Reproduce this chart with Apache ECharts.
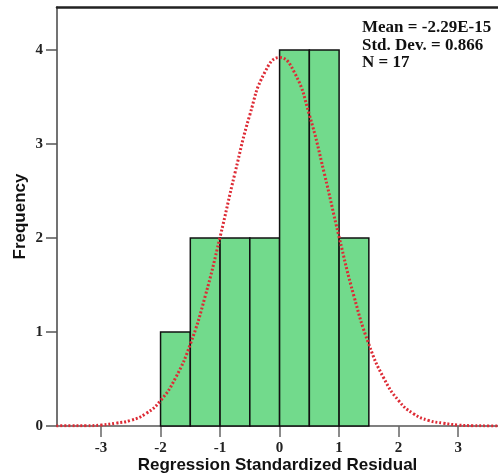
<!DOCTYPE html>
<html>
<head>
<meta charset="utf-8">
<script src="https://cdn.jsdelivr.net/npm/echarts@6/dist/echarts.min.js"></script>
<style>html,body{margin:0;padding:0;background:#fff;}#c{width:498px;height:475px;}</style>
</head>
<body>
<div id="c"></div>
<script>
// Histogram bins (Regression Standardized Residual)
const binStart = [-2.0, -1.5, -1.0, -0.5, 0.0, 0.5, 1.0];
const binEnd   = [-1.5, -1.0, -0.5, 0.0, 0.5, 1.0, 1.5];
const counts   = [1, 2, 2, 2, 4, 4, 2];
// Normal curve
const curveX = [-3.75,-3.5,-3.25,-3.0,-2.75,-2.5,-2.25,-2.0,-1.75,-1.5,-1.25,-1.0,-0.75,-0.5,-0.25,0.0,0.25,0.5,0.75,1.0,1.25,1.5,1.75,2.0,2.25,2.5,2.75,3.0,3.25,3.5,3.75];
const curveY = [0.0,0.004,0.003,0.01,0.03,0.06,0.13,0.27,0.51,0.87,1.38,2.01,2.69,3.31,3.76,3.92,3.76,3.31,2.69,2.01,1.38,0.87,0.51,0.27,0.13,0.06,0.03,0.01,0.003,0.001,0.0];
const xTicks = [-3, -2, -1, 0, 1, 2, 3];
const yTicks = [0, 1, 2, 3, 4];
const stats = ['Mean = -2.29E-15', 'Std. Dev. = 0.866', 'N = 17'];

const serif = '"Liberation Serif", "Times New Roman", serif';
const sans = '"Liberation Sans", Arial, sans-serif';
const chart = echarts.init(document.getElementById('c'));
const xMin = -3.74, xMax = 3.67, yMax = 4.457;
chart.setOption({
  animation: false,
  grid: { left: 57, right: 0, top: 7, bottom: 49, outerBoundsMode: 'none', containLabel: false },
  xAxis: [{
    type: 'value', min: xMin, max: xMax,
    name: 'Regression Standardized Residual', nameLocation: 'middle', nameGap: 31, nameMoveOverlap: false,
    nameTextStyle: { fontFamily: sans, fontWeight: 'bold', fontSize: 17, color: '#111' },
    axisLine: { show: true, onZero: false, lineStyle: { color: '#555', width: 1.5 } },
    axisTick: { show: true, length: 11, inside: false, customValues: xTicks, lineStyle: { color: '#666', width: 1.5 } },
    axisLabel: { customValues: xTicks, fontFamily: serif, fontWeight: 'bold', fontSize: 15, color: '#222', margin: 15 },
    splitLine: { show: false }
  }, {
    type: 'value', min: xMin, max: xMax, position: 'top',
    axisLine: { show: true, onZero: false, lineStyle: { color: '#222', width: 2.5 } },
    axisTick: { show: false }, axisLabel: { show: false }, splitLine: { show: false }
  }],
  yAxis: {
    type: 'value', min: 0, max: yMax,
    name: 'Frequency', nameLocation: 'middle', nameGap: 28, nameMoveOverlap: false,
    nameTextStyle: { fontFamily: sans, fontWeight: 'bold', fontSize: 17, color: '#111' },
    axisLine: { show: true, onZero: false, lineStyle: { color: '#444', width: 1.5 } },
    axisTick: { show: true, length: 11, customValues: yTicks, lineStyle: { color: '#555', width: 1.5 } },
    axisLabel: { customValues: yTicks, fontFamily: serif, fontWeight: 'bold', fontSize: 15, color: '#222', margin: 14 },
    splitLine: { show: false }
  },
  graphic: [{
    type: 'text', left: 362, top: 19,
    style: { text: stats.join('\n'), font: 'bold 17px ' + serif, lineHeight: 17.5, fill: '#111' }
  }],
  series: [{
    type: 'custom',
    xAxisIndex: 0,
    data: counts.map((c, i) => [binStart[i], binEnd[i], c]),
    encode: { x: [0, 1], y: 2 },
    renderItem: function (params, api) {
      const p0 = api.coord([api.value(0), api.value(2)]);
      const p1 = api.coord([api.value(1), 0]);
      return {
        type: 'rect',
        shape: { x: p0[0], y: p0[1], width: p1[0] - p0[0], height: p1[1] - p0[1] },
        style: { fill: '#72da8c', stroke: '#111', lineWidth: 1.5 }
      };
    },
    z: 2
  }, {
    type: 'line',
    xAxisIndex: 0,
    data: curveX.map((x, i) => [x, curveY[i]]),
    smooth: true, showSymbol: false,
    lineStyle: { color: '#dd2b35', width: 3, type: [2, 2] },
    z: 5
  }]
});
</script>
</body>
</html>
